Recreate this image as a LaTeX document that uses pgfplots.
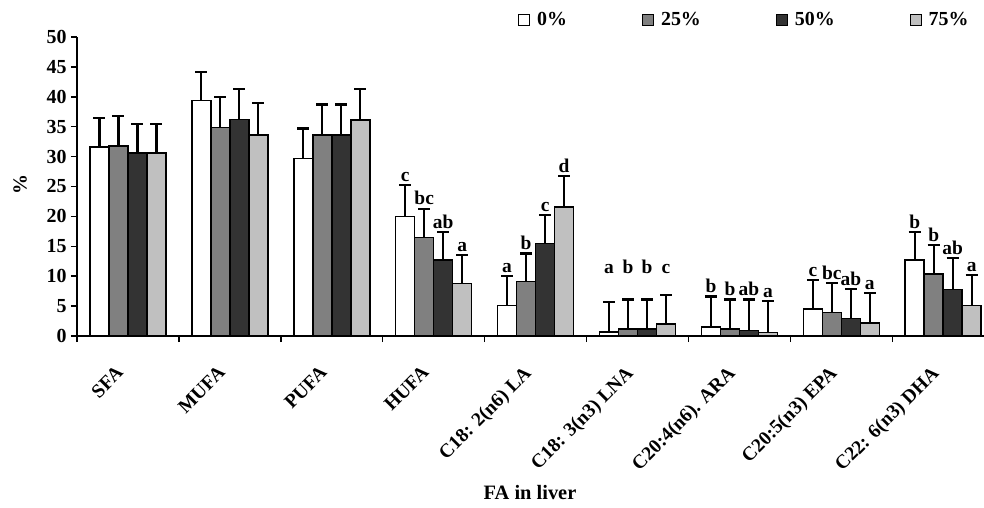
\documentclass[border=0pt]{standalone}
\usepackage{pgfplots}
\pgfplotsset{compat=1.18}
\usepackage{pgfplotstable}
\usepackage{fontspec}
\setmainfont{Liberation Serif}
\definecolor{cgray}{HTML}{808080}
\definecolor{cdark}{HTML}{333333}
\definecolor{clight}{HTML}{C0C0C0}

\pgfplotstableread{
x y err lo lab
0 31.6 4.9 5.2 {}
1 39.4 4.8 5.1 {}
2 29.7 5.0 5.3 {}
3 20.0 5.2 5.5 c
4 5.1 4.9 5.2 a
5 0.7 5.0 9.5 a
6 1.5 5.1 5.4 b
7 4.5 4.8 5.1 c
8 12.7 4.7 5.0 b
}\tA
\pgfplotstableread{
x y err lo lab
0 31.8 5.0 5.3 {}
1 34.9 5.1 5.4 {}
2 33.6 5.1 5.4 {}
3 16.5 4.8 5.1 bc
4 9.1 4.7 5.0 b
5 1.2 4.9 9.0 b
6 1.2 4.9 5.2 b
7 3.9 4.9 5.2 bc
8 10.4 4.8 5.1 b
}\tB
\pgfplotstableread{
x y err lo lab
0 30.6 4.9 5.2 {}
1 36.2 5.1 5.4 {}
2 33.6 5.1 5.4 {}
3 12.7 4.7 5.0 ab
4 15.5 4.7 5.0 c
5 1.2 4.9 9.0 b
6 0.9 5.2 5.5 ab
7 2.9 4.9 5.2 ab
8 7.8 5.2 5.5 ab
}\tC
\pgfplotstableread{
x y err lo lab
0 30.6 4.9 5.2 {}
1 33.6 5.4 5.7 {}
2 36.1 5.2 5.5 {}
3 8.8 4.7 5.0 a
4 21.6 5.1 5.4 d
5 2.0 4.8 8.2 c
6 0.6 5.2 5.5 a
7 2.2 5.0 5.3 a
8 5.1 5.1 5.4 a
}\tD

\begin{document}
\begin{tikzpicture}
\useasboundingbox (0,0) rectangle (984bp,508bp);
\begin{axis}[
  at={(77bp,172bp)}, anchor=south west,
  scale only axis, width=907bp, height=299bp,
  xmin=-0.5, xmax=8.4, ymin=0, ymax=50,
  axis lines*=left,
  axis line style={line width=1.5bp},
  ytick={0,5,...,50},
  xtick={-0.5,0.5,...,7.5},
  xticklabels={},
  extra x ticks={0,...,8},
  extra x tick labels={SFA,MUFA,PUFA,HUFA,C18: 2(n6) LA,C18: 3(n3) LNA,C20:4(n6). ARA,C20:5(n3) EPA,C22: 6(n3) DHA},
  extra x tick style={major tick length=0pt, tick style={draw=none}},
  tick align=outside,
  major tick length=6bp,
  tick style={line width=1.5bp, black},
  /pgf/number format/assume math mode=true,
  yticklabel style={font=\fontsize{20}{22}\selectfont\bfseries, xshift=-1bp},
  xticklabel style={xshift=-13bp, yshift=-24bp, rotate=45, anchor=north east, font=\fontsize{19.5}{21}\selectfont\bfseries},
  xlabel={FA in liver},
  xlabel style={at={(axis description cs:0.4995,0)}, anchor=center, yshift=-157bp, font=\fontsize{20.5}{22}\selectfont\bfseries},
  ylabel={\%},
  ylabel style={at={(axis description cs:-0.0628,0.505)}, anchor=center, font=\fontsize{20}{22}\selectfont\bfseries},
  ybar, bar width=19bp,
  legend columns=4,
  legend style={draw=none, at={(axis description cs:0.4862,1.0569)}, anchor=west, inner sep=0pt,
     font=\fontsize{20}{22}\selectfont\bfseries,
     /tikz/every odd column/.append style={column sep=5bp},
     /tikz/every even column/.append style={column sep=73bp}},
  legend image code/.code={\draw[#1, line width=1bp] (0bp,-5.5bp) rectangle (11bp,5.5bp);},
  nodes near coords,
  point meta=explicit symbolic,
  visualization depends on={\thisrow{lo}\as\lo},
  every node near coord/.append style={anchor=south, inner sep=1bp, font=\fontsize{19.5}{21}\selectfont\bfseries, shift={(axis direction cs:0,\lo)}},
  error bars/y dir=plus, error bars/y explicit,
  error bars/error bar style={line width=2.2bp, black},
  error bars/error mark options={line width=2.2bp, mark size=6bp, black, rotate=90},
]
\addplot[fill=white, draw=black, line width=1.5bp, bar shift=-28.5bp] table[x=x, y=y, y error=err, meta=lab] {\tA};
\addplot[fill=cgray, draw=black, line width=1.5bp, bar shift=-9.5bp] table[x=x, y=y, y error=err, meta=lab] {\tB};
\addplot[fill=cdark, draw=black, line width=1.5bp, bar shift=9.5bp] table[x=x, y=y, y error=err, meta=lab] {\tC};
\addplot[fill=clight, draw=black, line width=1.5bp, bar shift=28.5bp] table[x=x, y=y, y error=err, meta=lab] {\tD};
\legend{0\%,25\%,50\%,75\%}
\end{axis}
\end{tikzpicture}
\end{document}
